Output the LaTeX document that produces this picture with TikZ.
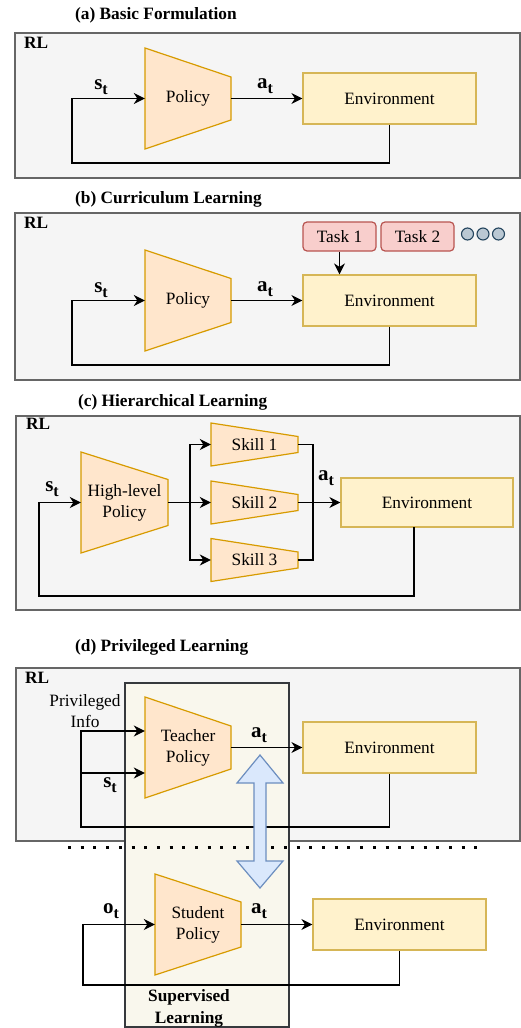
\documentclass[tikz,border=0pt]{standalone}
\usepackage{fontspec}
\setmainfont{Liberation Serif}
\usetikzlibrary{arrows.meta}
\definecolor{rlfill}{HTML}{F5F5F5}
\definecolor{rlstroke}{HTML}{666666}
\definecolor{polfill}{HTML}{FFE6CC}
\definecolor{polstroke}{HTML}{D79B00}
\definecolor{envfill}{HTML}{FFF2CC}
\definecolor{envstroke}{HTML}{D6B656}
\definecolor{taskfill}{HTML}{F8CECC}
\definecolor{taskstroke}{HTML}{B85450}
\definecolor{dotfill}{HTML}{BAC8D3}
\definecolor{dotstroke}{HTML}{23445D}
\definecolor{supfill}{HTML}{F9F7ED}
\definecolor{supstroke}{HTML}{36393D}
\definecolor{bafill}{HTML}{DAE8FC}
\definecolor{bastroke}{HTML}{6C8EBF}
\tikzset{
  rlbox/.style={draw=rlstroke, fill=rlfill, line width=1.3pt},
  trapsty/.style={draw=polstroke, fill=polfill, line width=1.2pt, line join=miter},
  envbox/.style={draw=envstroke, fill=envfill, line width=1.2pt, minimum width=173pt, minimum height=51pt, inner sep=0pt, font=\fontsize{17.3}{20}\selectfont},
  taskbox/.style={draw=taskstroke, fill=taskfill, line width=1.2pt, rounded corners=4pt, minimum width=73pt, minimum height=29pt, inner sep=0pt, font=\fontsize{17.3}{20}\selectfont},
  dotc/.style={circle, draw=dotstroke, fill=dotfill, line width=1.1pt, minimum size=12pt, inner sep=0pt},
  arr/.style={-{Stealth[length=11pt,width=11pt,inset=3.5pt]}, line width=1.2pt},
  ln/.style={line width=1.2pt},
  lbl/.style={font=\fontsize{17.3}{21}\selectfont, align=center, inner sep=0pt},
  ttl/.style={font=\fontsize{17.3}{20}\selectfont\bfseries, anchor=west, inner sep=0pt},
  rllbl/.style={font=\fontsize{17.3}{20}\selectfont\bfseries, anchor=west, inner sep=0pt},
  sym/.style={font=\fontsize{21}{21}\selectfont, inner sep=0pt},
  dotline/.style={line width=3pt, dash pattern=on 3pt off 9.7pt},
}
\newcommand{\symb}[2]{\textbf{#1}\raisebox{-0.45ex}{\fontsize{16}{16}\selectfont\bfseries #2}}
\newcommand{\trapz}[7]{%
  \draw[trapsty] (#2,{#4-#5}) -- (#3,{#4-#6}) -- (#3,{#4+#6}) -- (#2,{#4+#5}) -- cycle;
  \node[lbl, minimum width={#3-#2}, minimum height={2*#5}] (#1) at ({(#2+#3)/2},#4) {#7};}
\begin{document}
\begin{tikzpicture}[x=1pt,y=-1pt]
\useasboundingbox (0,0) rectangle (521,1028);

% ---------------- (a) ----------------
\node[ttl] (ta) at (75,15) {(a) Basic Formulation};
\draw[rlbox] (15,33) rectangle (520,178);
\node[rllbl] (rla) at (24,43) {RL};
\trapz{polA}{145}{231}{98.5}{50.5}{21.5}{Policy}
\node[envbox] (envA) at (389.5,98.5) {Environment};
\coordinate (loopA) at (72,163);
\draw[arr] (envA.south) |- (loopA) |- (polA.west);
\draw[arr] (polA.east) -- (envA.west);
\node[sym] (sA) at (101,87) {\symb{s}{t}};
\node[sym] (aA) at (265,86) {\symb{a}{t}};

% ---------------- (b) ----------------
\node[ttl] (tb) at (75,199) {(b) Curriculum Learning};
\draw[rlbox] (15,213) rectangle (520,380);
\node[rllbl] (rlb) at (24,223) {RL};
\trapz{polB}{145}{231}{300.5}{50.5}{22}{Policy}
\node[envbox] (envB) at (389.5,300.5) {Environment};
\node[taskbox] (t1) at (339.5,236.5) {Task 1};
\node[taskbox] (t2) at (417.5,236.5) {Task 2};
\node[dotc] (c1) at (467.5,234) {};
\node[dotc] (c2) at (483,234) {};
\node[dotc] (c3) at (498.5,234) {};
\draw[arr] (t1.south) -- (t1.south |- envB.north);
\coordinate (loopB) at (72,365);
\draw[arr] (envB.south) |- (loopB) |- (polB.west);
\draw[arr] (polB.east) -- (envB.west);
\node[sym] (sB) at (101,290) {\symb{s}{t}};
\node[sym] (aB) at (265,289) {\symb{a}{t}};

% ---------------- (c) ----------------
\node[ttl] (tc) at (78,402) {(c) Hierarchical Learning};
\draw[rlbox] (16,416) rectangle (520,610);
\node[rllbl] (rlc) at (26,424) {RL};
\trapz{hl}{81}{168}{502.5}{50.5}{23}{High-level\\Policy}
\trapz{sk1}{211}{298}{444.5}{21.5}{8}{Skill 1}
\trapz{sk2}{211}{298}{502.5}{21.5}{8}{Skill 2}
\trapz{sk3}{211}{298}{560}{21.5}{8}{Skill 3}
\node[envbox, minimum width=172pt, minimum height=49pt] (envC) at (427,502.5) {Environment};
\coordinate (brC) at (190,502.5);
\coordinate (mgC) at (313,502.5);
\draw[ln] (hl.east) -- (brC);
\draw[arr] (brC) -- (sk2.west);
\draw[arr] (brC) |- (sk1.west);
\draw[arr] (brC) |- (sk3.west);
\draw[ln] (sk1.east) -| (mgC);
\draw[ln] (sk3.east) -| (mgC);
\draw[arr] (sk2.east) -- (envC.west);
\coordinate (envCout) at (414,527);
\coordinate (loopC) at (39,596);
\draw[arr] (envCout) |- (loopC) |- (hl.west);
\node[sym] (sC) at (52,489) {\symb{s}{t}};
\node[sym] (aC) at (326,478) {\symb{a}{t}};

% ---------------- (d) ----------------
\node[ttl] (td) at (75,647) {(d) Privileged Learning};
\draw[rlbox] (16,668) rectangle (520,841);
\node[rllbl] (rld) at (25,678) {RL};
\draw[draw=supstroke, fill=supfill, line width=1.3pt] (125,683) rectangle (289,1027);
\node[lbl, font=\fontsize{17.3}{22}\selectfont\bfseries] (supT) at (189,1008) {Supervised\\Learning};
\coordinate (dl1) at (68,847);
\coordinate (dl2) at (486,847);
\draw[dotline] (dl1) -- (dl2);

\trapz{teach}{145}{231}{747.5}{50.5}{21.5}{Teacher\\Policy}
\node[envbox] (envD) at (389.5,747.5) {Environment};
\coordinate (piD) at (81,731);
\coordinate (stD) at (81,773);
\coordinate (loopD) at (81,827);
\draw[arr] (envD.south) |- (loopD) -- (piD) -- (piD -| teach.west);
\draw[arr] (stD) -- (stD -| teach.west);
\draw[arr] (teach.east) -- (envD.west);
\node[lbl] (piT) at (85,711) {Privileged\\Info};
\node[sym] (sD) at (110,785) {\symb{s}{t}};
\node[sym] (aD) at (259,735) {\symb{a}{t}};

\trapz{stud}{155}{241}{924.5}{50.5}{22.5}{Student\\Policy}
\node[envbox] (envE) at (399.5,924.5) {Environment};
\coordinate (loopE) at (83,985);
\draw[arr] (envE.south) |- (loopE) |- (stud.west);
\draw[arr] (stud.east) -- (envE.west);
\node[sym] (oE) at (111,911) {\symb{o}{t}};
\node[sym] (aE) at (259,911) {\symb{a}{t}};

% double arrow
\draw[draw=bastroke, fill=bafill, line width=1.2pt, line join=miter]
  (260,755) -- (283,783) -- (266,783) -- (266,861) -- (283,861) -- (260,888)
  -- (237,861) -- (254,861) -- (254,783) -- (237,783) -- cycle;
\end{tikzpicture}
\end{document}
